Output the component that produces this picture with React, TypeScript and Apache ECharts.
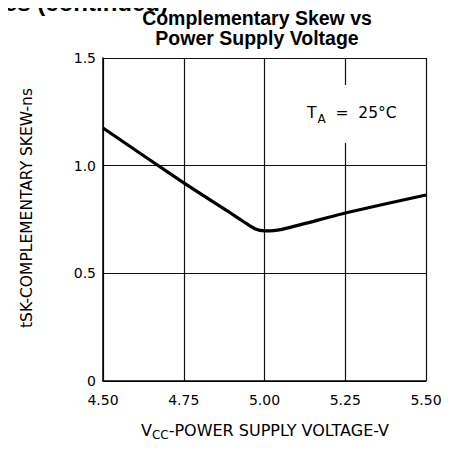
import React, { useEffect, useRef } from "react";
import * as echarts from "echarts";

const voltage = [4.5, 4.75, 4.89, 4.94, 4.97, 5.0, 5.05, 5.25, 5.5];
const skew = [1.175, 0.92, 0.785, 0.735, 0.707, 0.697, 0.703, 0.78, 0.864];
const xTicks = [4.5, 4.75, 5.0, 5.25, 5.5];
const yTicks = [0, 0.5, 1.0, 1.5];

const titleLines = ["Complementary Skew vs", "Power Supply Voltage"];

export default function App() {
  const ref = useRef<HTMLDivElement>(null);
  useEffect(() => {
    if (!ref.current) return;
    const chart = echarts.init(ref.current, null, { renderer: "svg" });
    const font = "Liberation Sans, Arial, sans-serif";
    const plot = "DejaVu Sans, sans-serif";
    chart.setOption({
      animation: false,
      backgroundColor: "#fff",
      grid: { left: 103, right: 27, top: 58, bottom: 80, containLabel: false },
      xAxis: {
        type: "value",
        min: xTicks[0],
        max: xTicks[xTicks.length - 1],
        interval: 0.25,
        axisLine: { show: true, lineStyle: { color: "#000", width: 1.5 } },
        axisTick: { show: false },
        axisLabel: {
          color: "#000",
          fontFamily: plot,
          fontSize: 14,
          margin: 12,
          formatter: (v: number) => v.toFixed(2),
        },
        splitLine: { show: true, lineStyle: { color: "#111", width: 1.2 } },
      },
      yAxis: {
        type: "value",
        min: yTicks[0],
        max: yTicks[yTicks.length - 1],
        interval: 0.5,
        axisLine: { show: true, lineStyle: { color: "#000", width: 1.5 } },
        axisTick: { show: false },
        axisLabel: {
          color: "#000",
          fontFamily: plot,
          fontSize: 14,
          margin: 7,
          formatter: (v: number) => (v === 0 ? "0" : v.toFixed(1)),
        },
        splitLine: { show: true, lineStyle: { color: "#111", width: 1.2 } },
      },
      series: [
        {
          type: "line",
          data: voltage.map((v, i) => [v, skew[i]]),
          showSymbol: false,
          smooth: 0.2,
          lineStyle: { color: "#000", width: 3.2 },
          z: 5,
        },
      ],
      graphic: [
        {
          type: "text",
          x: 168,
          y: -10,
          style: {
            text: "Curves (continued)",
            fontFamily: font,
            fontWeight: "bold",
            fontSize: 24,
            fill: "#000",
            align: "right",
            verticalAlign: "top",
          },
          silent: true,
        },
        {
          type: "text",
          x: 257,
          y: 18,
          style: {
            text: titleLines[0],
            fontFamily: font,
            fontWeight: "bold",
            fontSize: 19.5,
            fill: "#000",
            align: "center",
            verticalAlign: "middle",
          },
        },
        {
          type: "text",
          x: 257,
          y: 38,
          style: {
            text: titleLines[1],
            fontFamily: font,
            fontWeight: "bold",
            fontSize: 19.5,
            fill: "#000",
            align: "center",
            verticalAlign: "middle",
          },
        },
        {
          type: "rect",
          shape: { x: 336, y: 85, width: 20, height: 58 },
          style: { fill: "#fff" },
          z: 10,
        },
        {
          type: "text",
          x: 307,
          y: 113,
          z: 11,
          style: {
            text: "{t|T}{s|A}{t|  =  25°C}",
            verticalAlign: "middle",
            rich: {
              t: { fontFamily: plot, fontSize: 15.5, fill: "#000" },
              s: { fontFamily: plot, fontSize: 12, fill: "#000", padding: [11, 0, 0, 1] },
            },
          },
        },
        {
          type: "text",
          x: 27,
          y: 208,
          rotation: Math.PI / 2,
          style: {
            text: "tSK-COMPLEMENTARY SKEW-ns",
            fontFamily: plot,
            fontSize: 15.5,
            fill: "#000",
            align: "center",
            verticalAlign: "middle",
          },
        },
        {
          type: "text",
          x: 265,
          y: 430,
          style: {
            text: "{t|V}{s|CC}{t|-POWER SUPPLY VOLTAGE-V}",
            align: "center",
            verticalAlign: "middle",
            rich: {
              t: { fontFamily: plot, fontSize: 16, fill: "#000" },
              s: { fontFamily: plot, fontSize: 12, fill: "#000", padding: [10, 0, 0, 0] },
            },
          },
        },
      ],
    });
    return () => chart.dispose();
  }, []);
  return <div ref={ref} style={{ width: 453, height: 461, margin: -8 }} />;
}
